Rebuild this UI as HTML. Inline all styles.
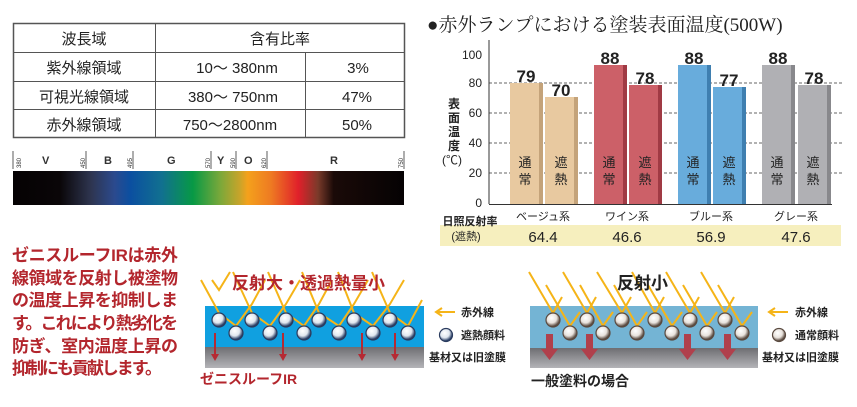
<!DOCTYPE html>
<html><head><meta charset="utf-8"><style>
body{margin:0;background:#fff;}
svg{display:block;font-family:"Liberation Sans","Noto Sans CJK JP",sans-serif;}
</style></head><body>
<svg width="857" height="407" viewBox="0 0 857 407" xmlns="http://www.w3.org/2000/svg">
<defs>
<linearGradient id="spec" x1="0" x2="1" y1="0" y2="0">
<stop offset="0" stop-color="#050203"/><stop offset="0.12" stop-color="#0a0608"/>
<stop offset="0.2" stop-color="#2e3550"/><stop offset="0.26" stop-color="#2b4a8e"/>
<stop offset="0.3" stop-color="#0b4fa0"/><stop offset="0.38" stop-color="#117090"/>
<stop offset="0.46" stop-color="#079945"/><stop offset="0.53" stop-color="#7aa83a"/>
<stop offset="0.58" stop-color="#c8a42a"/><stop offset="0.6" stop-color="#f4a11c"/>
<stop offset="0.66" stop-color="#ee7a22"/><stop offset="0.73" stop-color="#e0202a"/>
<stop offset="0.78" stop-color="#7a3a2a"/><stop offset="0.82" stop-color="#1a0a08"/>
<stop offset="1" stop-color="#050203"/></linearGradient>
<radialGradient id="ball" cx="0.4" cy="0.35" r="0.6"><stop offset="0" stop-color="#fff"/><stop offset="0.6" stop-color="#dfe6ee"/><stop offset="1" stop-color="#2a3f66"/></radialGradient>
<radialGradient id="ball2" cx="0.4" cy="0.35" r="0.6"><stop offset="0" stop-color="#fff"/><stop offset="0.6" stop-color="#e8e2dc"/><stop offset="1" stop-color="#5a4a40"/></radialGradient>
<linearGradient id="gray" x1="0" x2="0" y1="0" y2="1"><stop offset="0" stop-color="#6e6e72"/><stop offset="1" stop-color="#b4b4b8"/></linearGradient>
</defs>

<!-- table -->
<g stroke="#555" fill="none" stroke-width="1">
<rect x="13.5" y="23.5" width="391" height="114" stroke-width="1.5"/>
<line x1="13" y1="52.5" x2="404" y2="52.5"/>
<line x1="13" y1="81.5" x2="404" y2="81.5"/>
<line x1="13" y1="109.5" x2="404" y2="109.5"/>
<line x1="155.5" y1="23" x2="155.5" y2="137"/>
<line x1="305.5" y1="52" x2="305.5" y2="137"/>
</g>
<g font-size="15" fill="#222" text-anchor="middle">
<text x="84" y="44">波長域</text><text x="280" y="44">含有比率</text>
<text x="84" y="73">紫外線領域</text><text x="237" y="73">10〜 380nm</text><text x="358" y="73">3%</text>
<text x="84" y="102">可視光線領域</text><text x="233" y="102">380〜 750nm</text><text x="357" y="102">47%</text>
<text x="84" y="130">赤外線領域</text><text x="230" y="130">750〜2800nm</text><text x="357" y="130">50%</text>
</g>

<!-- spectrum -->
<rect x="13" y="171" width="391" height="34" fill="url(#spec)"/>
<g stroke="#333" stroke-width="0.8">
<line x1="13" y1="151" x2="13" y2="169"/><line x1="86" y1="151" x2="86" y2="169"/><line x1="133" y1="151" x2="133" y2="169"/><line x1="211" y1="151" x2="211" y2="169"/><line x1="236" y1="151" x2="236" y2="169"/><line x1="267" y1="151" x2="267" y2="169"/><line x1="404" y1="151" x2="404" y2="169"/>
</g>
<g font-size="6" fill="#333">
<text transform="translate(21,168) rotate(-90)">380</text><text transform="translate(85,168) rotate(-90)">450</text><text transform="translate(132,168) rotate(-90)">495</text><text transform="translate(210,168) rotate(-90)">570</text><text transform="translate(235,168) rotate(-90)">590</text><text transform="translate(266,168) rotate(-90)">620</text><text transform="translate(403,168) rotate(-90)">750</text>
</g>
<g font-size="11" font-weight="bold" fill="#333">
<text x="42" y="164">V</text><text x="104" y="164">B</text><text x="167" y="164">G</text><text x="217" y="164">Y</text><text x="244" y="164">O</text><text x="330" y="164">R</text>
</g>

<!-- red text -->
<g font-size="17" font-weight="bold" fill="#b3262d" font-family="'Liberation Sans','Noto Sans CJK JP',sans-serif">
<text x="12" y="261" textLength="166">ゼニスルーフIRは赤外</text>
<text x="12" y="284" textLength="166">線領域を反射し被塗物</text>
<text x="12" y="306" textLength="166">の温度上昇を抑制しま</text>
<text x="12" y="329" textLength="166">す。これにより熱劣化を</text>
<text x="12" y="352" textLength="166">防ぎ、室内温度上昇の</text>
<text x="12" y="374" textLength="150">抑制にも貢献します。</text>
</g>

<!-- chart title -->
<text x="427" y="31" font-size="19" fill="#222" font-family="'Liberation Serif','Noto Serif CJK SC',serif">●赤外ランプにおける塗装表面温度(500W)</text>

<!-- chart -->
<g stroke="#333" stroke-width="0.8" stroke-dasharray="3,2">
<line x1="489" y1="83" x2="842" y2="83"/><line x1="489" y1="113" x2="842" y2="113"/><line x1="489" y1="143" x2="842" y2="143"/><line x1="489" y1="173" x2="842" y2="173"/>
</g>
<g font-size="12" fill="#222" text-anchor="end">
<text x="482" y="59">100</text><text x="482" y="87">80</text><text x="482" y="117">60</text><text x="482" y="147">40</text><text x="482" y="177">20</text><text x="482" y="207">0</text>
</g>
<g font-size="12" font-weight="bold" fill="#222" text-anchor="middle">
<text x="454" y="108">表</text><text x="454" y="122">面</text><text x="454" y="136">温</text><text x="454" y="150">度</text><text x="452" y="164" font-weight="normal">(℃)</text>
</g>
<!-- bars -->
<g>
<rect x="510" y="83" width="33" height="121" fill="#e8c9a0"/><rect x="539" y="83" width="4" height="121" fill="#c4a37a"/>
<rect x="545" y="97" width="33" height="107" fill="#e8c9a0"/><rect x="574" y="97" width="4" height="107" fill="#c4a37a"/>
<rect x="594" y="65" width="33" height="139" fill="#cc6068"/><rect x="623" y="65" width="4" height="139" fill="#a03a44"/>
<rect x="629" y="85" width="33" height="119" fill="#cc6068"/><rect x="658" y="85" width="4" height="119" fill="#a03a44"/>
<rect x="678" y="65" width="33" height="139" fill="#68acdc"/><rect x="707" y="65" width="4" height="139" fill="#3f7fb0"/>
<rect x="713" y="87" width="33" height="117" fill="#68acdc"/><rect x="742" y="87" width="4" height="117" fill="#3f7fb0"/>
<rect x="762" y="65" width="33" height="139" fill="#b0b0b4"/><rect x="791" y="65" width="4" height="139" fill="#88888c"/>
<rect x="798" y="85" width="33" height="119" fill="#b0b0b4"/><rect x="827" y="85" width="4" height="119" fill="#88888c"/>
</g>
<line x1="489" y1="40" x2="489" y2="204" stroke="#333" stroke-width="1"/>
<line x1="489" y1="204.5" x2="832" y2="204.5" stroke="#333" stroke-width="1"/>
<g font-size="17" font-weight="bold" fill="#222" text-anchor="middle">
<text x="526" y="82">79</text><text x="561" y="96">70</text><text x="610" y="64">88</text><text x="645" y="84">78</text>
<text x="694" y="64">88</text><text x="729" y="86">77</text><text x="778" y="64">88</text><text x="814" y="84">78</text>
</g>
<g font-size="13" fill="#222" text-anchor="middle">
<text x="525" y="167">通</text><text x="525" y="184">常</text><text x="561" y="167">遮</text><text x="561" y="184">熱</text>
<text x="609" y="167">通</text><text x="609" y="184">常</text><text x="645" y="167">遮</text><text x="645" y="184">熱</text>
<text x="693" y="167">通</text><text x="693" y="184">常</text><text x="729" y="167">遮</text><text x="729" y="184">熱</text>
<text x="777" y="167">通</text><text x="777" y="184">常</text><text x="813" y="167">遮</text><text x="813" y="184">熱</text>
</g>
<g font-size="11" fill="#222" text-anchor="middle">
<text x="543" y="220">ベージュ系</text><text x="627" y="220">ワイン系</text><text x="711" y="220">ブルー系</text><text x="796" y="220">グレー系</text>
</g>
<rect x="440" y="225" width="401" height="21" fill="#f6efbe"/>
<g font-size="11" font-weight="bold" fill="#222" text-anchor="middle"><text x="470" y="225">日照反射率</text><text x="466" y="240" font-weight="normal">(遮熱)</text></g>
<g font-size="15" fill="#222" text-anchor="middle">
<text x="543" y="242">64.4</text><text x="627" y="242">46.6</text><text x="711" y="242">56.9</text><text x="796" y="242">47.6</text>
</g>

<!-- left diagram -->
<rect x="205" y="306" width="219" height="41" fill="#10a0e0"/>
<rect x="205" y="347" width="219" height="21" fill="url(#gray)"/>
<g fill="#b52a33" stroke="#b52a33" stroke-width="2">
<line x1="215" y1="333" x2="215" y2="355"/><polygon points="211,354 219,354 215,361" stroke="none"/>
<line x1="283" y1="333" x2="283" y2="355"/><polygon points="279,354 287,354 283,361" stroke="none"/>
<line x1="362" y1="333" x2="362" y2="355"/><polygon points="358,354 366,354 362,361" stroke="none"/>
<line x1="395" y1="333" x2="395" y2="355"/><polygon points="391,354 399,354 395,361" stroke="none"/>
</g>
<g fill="none" stroke="#f5b418" stroke-width="2">
<polyline points="201,280 219,313 236,326 252,304 265,280"/>
<polyline points="233,272 252,313 270,326 286,304 300,280"/>
<polyline points="268,272 286,313 304,326 319,304 332,280"/>
<polyline points="302,272 319,313 339,326 354,304 368,280"/>
<polyline points="338,272 354,313 373,326 390,304 404,280"/>
<polyline points="372,272 390,313 408,326 422,300"/>
<polyline points="212,280 219,290 230,272"/>
</g>
<g fill="url(#ball)" stroke="#2a3b5e" stroke-width="1.2">
<circle cx="219" cy="320" r="7"/><circle cx="252" cy="320" r="7"/><circle cx="286" cy="320" r="7"/><circle cx="319" cy="320" r="7"/><circle cx="354" cy="320" r="7"/><circle cx="390" cy="320" r="7"/>
<circle cx="236" cy="333" r="7"/><circle cx="270" cy="333" r="7"/><circle cx="304" cy="333" r="7"/><circle cx="339" cy="333" r="7"/><circle cx="373" cy="333" r="7"/><circle cx="408" cy="333" r="7"/>
</g>
<text x="232" y="289" font-size="17" font-weight="bold" fill="#b3262d">反射大・透過熱量小</text>
<text x="200" y="384" font-size="14" font-weight="bold" fill="#b3262d">ゼニスルーフIR</text>
<g font-size="11" font-weight="bold" fill="#222">
<line x1="437" y1="312" x2="455" y2="312" stroke="#f5b418" stroke-width="2"/><polyline points="442,308 436,312 442,316" fill="none" stroke="#f5b418" stroke-width="2"/>
<text x="461" y="316">赤外線</text>
<circle cx="446" cy="335" r="6.5" fill="url(#ball)" stroke="#2a3b5e" stroke-width="1.2"/><text x="461" y="339">遮熱顔料</text>
<text x="429" y="361">基材又は旧塗膜</text>
</g>

<!-- right diagram -->
<rect x="530" y="306" width="228" height="42" fill="#74b4d4"/>
<rect x="530" y="348" width="228" height="20" fill="url(#gray)"/>
<g fill="#b0404c">
<rect x="546" y="334" width="7" height="16"/><polygon points="541,349 558,349 549.5,360"/>
<rect x="586" y="334" width="7" height="16"/><polygon points="581,349 598,349 589.5,360"/>
<rect x="684" y="334" width="7" height="16"/><polygon points="679,349 696,349 687.5,360"/>
<rect x="724" y="334" width="7" height="16"/><polygon points="719,349 736,349 727.5,360"/>
</g>
<g fill="none" stroke="#f5b418" stroke-width="2">
<polyline points="529,272 553,313 562,297"/><polyline points="546,285 570,326 580,312"/>
<polyline points="563,272 587,313 596,297"/><polyline points="580,285 603,326 613,312"/>
<polyline points="597,272 622,313 631,297"/><polyline points="614,285 637,326 647,312"/>
<polyline points="632,272 655,313 664,297"/><polyline points="648,285 672,326 682,312"/>
<polyline points="666,272 690,313 699,297"/><polyline points="683,285 707,326 717,312"/>
<polyline points="701,272 725,313 734,297"/><polyline points="718,285 742,326 752,312"/>
</g>
<g fill="url(#ball2)" stroke="#5a4a40" stroke-width="1.2">
<circle cx="553" cy="320" r="7"/><circle cx="587" cy="320" r="7"/><circle cx="622" cy="320" r="7"/><circle cx="655" cy="320" r="7"/><circle cx="690" cy="320" r="7"/><circle cx="725" cy="320" r="7"/>
<circle cx="570" cy="333" r="7"/><circle cx="603" cy="333" r="7"/><circle cx="637" cy="333" r="7"/><circle cx="672" cy="333" r="7"/><circle cx="707" cy="333" r="7"/><circle cx="742" cy="333" r="7"/>
</g>
<text x="617" y="289" font-size="17" font-weight="bold" fill="#222">反射小</text>
<text x="531" y="386" font-size="14" font-weight="bold" fill="#222">一般塗料の場合</text>
<g font-size="11" font-weight="bold" fill="#222">
<line x1="770" y1="312" x2="788" y2="312" stroke="#f5b418" stroke-width="2"/><polyline points="775,308 769,312 775,316" fill="none" stroke="#f5b418" stroke-width="2"/>
<text x="795" y="316">赤外線</text>
<circle cx="779" cy="335" r="6.5" fill="url(#ball2)" stroke="#5a4a40" stroke-width="1.2"/><text x="795" y="339">通常顔料</text>
<text x="762" y="361">基材又は旧塗膜</text>
</g>
</svg>
</body></html>
